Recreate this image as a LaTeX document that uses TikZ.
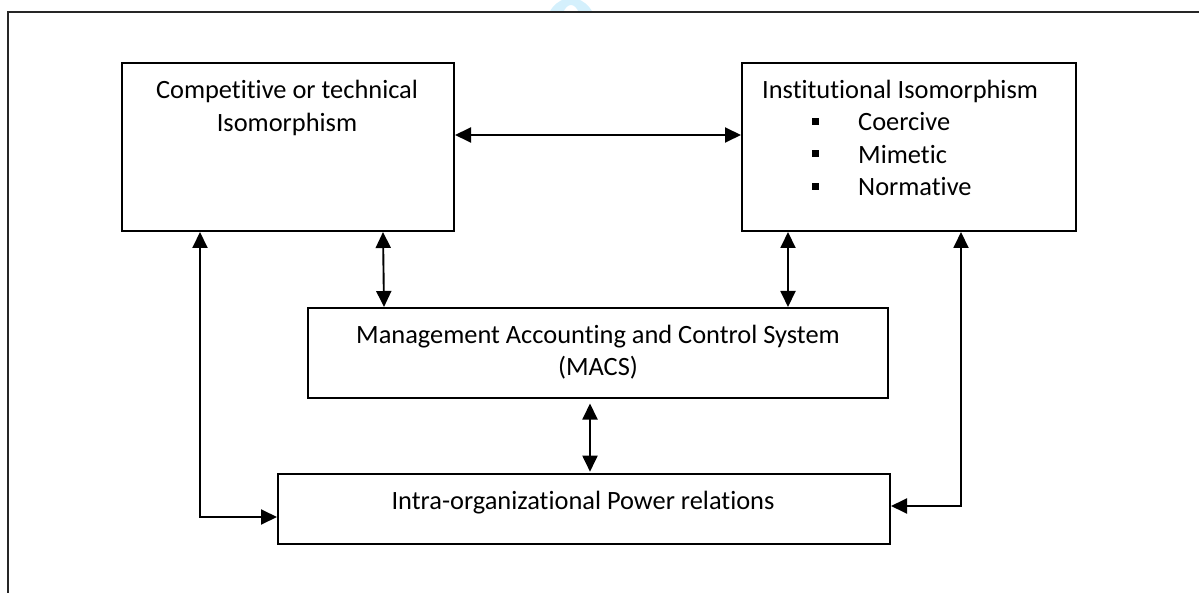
\documentclass[tikz,border=0pt]{standalone}
\usepackage{fontspec}
\setmainfont{Carlito}[Ligatures=NoCommon]
\usetikzlibrary{arrows.meta}
\definecolor{wm}{RGB}{212,240,252}
\begin{document}
\begin{tikzpicture}[x=1pt,y=-1pt,
  box/.style={draw=black, line width=2pt, rectangle, inner sep=0pt, anchor=north west},
  txt/.style={inner sep=0pt, anchor=base, font=\fontsize{26.4}{32}\selectfont},
  ltxt/.style={txt, anchor=base west},
  bsq/.style={fill=black, inner sep=0pt, minimum size=7pt, rectangle},
  conn/.style={line width=1.9pt, {Triangle[length=16pt,width=15pt]}-{Triangle[length=16pt,width=15pt]}},
  frameline/.style={line width=2.2pt, black!85},
]
\useasboundingbox (0,0) rectangle (1199,593);
% faint watermark fragment at the top
\begin{scope}
  \clip (540,0) rectangle (610,12);
  \fill[wm, even odd rule] (571,30) ellipse [x radius=26, y radius=32]
                           (571,30) ellipse [x radius=11, y radius=25];
\end{scope}
% page frame
\coordinate (fr0) at (8.3,593);
\coordinate (fr1) at (8.3,11.7);
\coordinate (fr2) at (1199,11.7);
\draw[frameline] (fr0) -- (fr1) -- (fr2);
% boxes
\node[box, minimum width=332pt, minimum height=168pt] (b1) at (121,62) {};
\node[box, minimum width=334pt, minimum height=168pt] (b2) at (741,62) {};
\node[box, minimum width=580pt, minimum height=90pt] (b3) at (307,307) {};
\node[box, minimum width=612pt, minimum height=70pt] (b4) at (277,473) {};
% texts
\node[txt] (t1a) at (287,98.3) {Competitive or technical};
\node[txt] (t1b) at (287,131.7) {Isomorphism};
\node[ltxt] (t2) at (762,98.3) {Institutional Isomorphism};
\node[bsq] (s1) at (815.5,121.5) {};
\node[ltxt] (i1) at (858,131) {Coercive};
\node[bsq] (s2) at (815.5,153.8) {};
\node[ltxt] (i2) at (858,163.3) {Mimetic};
\node[bsq] (s3) at (815.5,186.2) {};
\node[ltxt] (i3) at (858,195.7) {Normative};
\node[txt] (t3a) at (598,343.5) {Management Accounting and Control System};
\node[txt] (t3b) at (598,376) {(MACS)};
\node[txt] (t4) at (583,509) {Intra-organizational Power relations};
% connector guides
\coordinate (xa) at (200,0);
\coordinate (xb) at (383,0);
\coordinate (xb2) at (384,0);
\coordinate (xc) at (788,0);
\coordinate (xd) at (961,0);
\coordinate (xe) at (590,0);
\coordinate (yh) at (0,135);
\coordinate (yl) at (0,517);
\coordinate (yr) at (0,506);
% connectors
\draw[conn] (b1.east |- yh) -- (b2.west |- yh);
\draw[conn] (xb |- b1.south) -- (xb2 |- b3.north);
\draw[conn] (xc |- b2.south) -- (xc |- b3.north);
\draw[conn, shorten <=4.5pt, shorten >=1.3pt] (xe |- b3.south) -- (xe |- b4.north);
\draw[conn] (xa |- b1.south) -- (xa |- yl) -- (b4.west |- yl);
\draw[conn] (xd |- b2.south) -- (xd |- yr) -- (b4.east |- yr);
\end{tikzpicture}
\end{document}
